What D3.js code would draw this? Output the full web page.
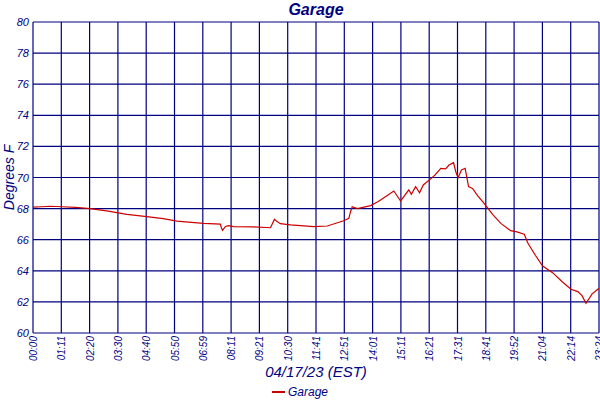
<!DOCTYPE html>
<html>
<head>
<meta charset="utf-8">
<script src="https://cdn.jsdelivr.net/npm/d3@7"></script>
<style>
	body { margin: 0; background: #fff; }
	text { font-family: "Liberation Sans", sans-serif; font-style: italic; fill: #000080; }
</style>
</head>
<body>
<script>

// SVG Size
var width = 600,
	height = 400;

// x positions are in tick units (0 = 00:00, 20 = 23:24)
var timeLabels = ["00:00", "01:11", "02:20", "03:30", "04:40", "05:50", "06:59", "08:11", "09:21", "10:30",
	"11:41", "12:51", "14:01", "15:11", "16:21", "17:31", "18:41", "19:52", "21:04", "22:14", "23:24"];
var yTicks = [60, 62, 64, 66, 68, 70, 72, 74, 76, 78, 80];

var garageX = [0, 0.3, 0.6, 1.03, 1.5, 2.02, 2.6, 3.32, 4.02, 4.6, 5.09, 5.6, 6.03, 6.62, 6.66, 6.70, 6.8, 6.91,
	7.08, 7.8, 8.39, 8.45, 8.53, 8.6, 8.74, 9.1, 9.92, 10.4, 10.98, 11.16, 11.22, 11.28, 11.46, 11.93,
	12.2, 12.4, 12.75, 12.99, 13.28, 13.37, 13.52, 13.66, 13.79, 14.03, 14.2, 14.41, 14.58, 14.7, 14.86,
	14.94, 15.02, 15.14, 15.27, 15.39, 15.53, 15.71, 15.94, 16.24, 16.53, 16.88, 17.1, 17.36, 17.48,
	17.75, 18.01, 18.36, 18.7, 19.01, 19.25, 19.4, 19.54, 19.75, 20.0];
var garageY = [68.1, 68.12, 68.15, 68.12, 68.08, 68.0, 67.85, 67.63, 67.48, 67.35, 67.2, 67.12, 67.05, 67.0, 66.75,
	66.6, 66.85, 66.9, 66.84, 66.82, 66.77, 67.0, 67.31, 67.2, 67.03, 66.95, 66.84, 66.88, 67.22, 67.37,
	67.8, 68.12, 68.0, 68.19, 68.45, 68.7, 69.13, 68.49, 69.2, 68.92, 69.41, 69.02, 69.52, 69.88, 70.15,
	70.59, 70.55, 70.8, 70.95, 70.37, 69.99, 70.48, 70.59, 69.41, 69.3, 68.83, 68.34, 67.63, 67.05, 66.58,
	66.5, 66.35, 65.8, 65.0, 64.31, 63.88, 63.3, 62.81, 62.66, 62.4, 61.91, 62.5, 62.88];

var margin = {top: 22, right: 1, bottom: 67, left: 33};
var w = width - margin.left - margin.right,
	h = height - margin.top - margin.bottom;

var svg = d3.select("body").append("svg")
	.attr("width", width)
	.attr("height", height);

var g = svg.append("g")
	.attr("transform", "translate(" + margin.left + "," + margin.top + ")");

var xScale = d3.scaleLinear()
	.domain([0, timeLabels.length - 1])
	.range([0, w]);

var yScale = d3.scaleLinear()
	.domain([60, 80])
	.range([h, 0]);

// grid lines
g.selectAll(".vgrid")
	.data(d3.range(timeLabels.length))
	.enter()
	.append("line")
	.attr("x1", function(d) { return xScale(d); })
	.attr("x2", function(d) { return xScale(d); })
	.attr("y1", 0)
	.attr("y2", h)
	.attr("stroke", "#000080")
	.attr("stroke-width", 1.2);

g.selectAll(".hgrid")
	.data(yTicks)
	.enter()
	.append("line")
	.attr("x1", 0)
	.attr("x2", w)
	.attr("y1", function(d) { return yScale(d); })
	.attr("y2", function(d) { return yScale(d); })
	.attr("stroke", "#000080")
	.attr("stroke-width", 1.2);

// axes (labels only)
var xAxis = d3.axisBottom(xScale)
	.tickValues(d3.range(timeLabels.length))
	.tickFormat(function(d) { return timeLabels[d]; })
	.tickSize(0);

var xg = g.append("g")
	.attr("transform", "translate(0," + h + ")")
	.call(xAxis);
xg.select(".domain").remove();
xg.selectAll("text")
	.attr("transform", "rotate(-90)")
	.attr("text-anchor", "end")
	.attr("x", -3)
	.attr("y", 0)
	.attr("dy", "0.35em")
	.style("font-size", "10px")
	.style("font-family", "Liberation Sans, sans-serif");

var yAxis = d3.axisLeft(yScale)
	.tickValues(yTicks)
	.tickSize(0);

var yg = g.append("g").call(yAxis);
yg.select(".domain").remove();
yg.selectAll("text")
	.attr("x", -4)
	.style("font-size", "11px")
	.style("font-family", "Liberation Sans, sans-serif");

// data line
var points = garageX.map(function(x, i) { return [x, garageY[i]]; });

var line = d3.line()
	.x(function(d) { return xScale(d[0]); })
	.y(function(d) { return yScale(d[1]); });

g.append("path")
	.datum(points)
	.attr("d", line)
	.attr("fill", "none")
	.attr("stroke", "#cc0000")
	.attr("stroke-width", 1.2);

// labels
svg.append("text")
	.attr("x", margin.left + w / 2)
	.attr("y", 15)
	.attr("text-anchor", "middle")
	.style("font-size", "16px")
	.style("font-weight", "bold")
	.text("Garage");

svg.append("text")
	.attr("transform", "translate(14," + (margin.top + h / 2) + ") rotate(-90)")
	.attr("text-anchor", "middle")
	.style("font-size", "14px")
	.text("Degrees F");

svg.append("text")
	.attr("x", margin.left + w / 2)
	.attr("y", 377)
	.attr("text-anchor", "middle")
	.style("font-size", "15px")
	.text("04/17/23 (EST)");

// legend
var legend = svg.append("g")
	.attr("transform", "translate(272,392)");
legend.append("line")
	.attr("x1", 0)
	.attr("x2", 13)
	.attr("stroke", "#cc0000")
	.attr("stroke-width", 2);
legend.append("text")
	.attr("x", 16)
	.attr("dy", "0.35em")
	.style("font-size", "12px")
	.text("Garage");

</script>
</body>
</html>
